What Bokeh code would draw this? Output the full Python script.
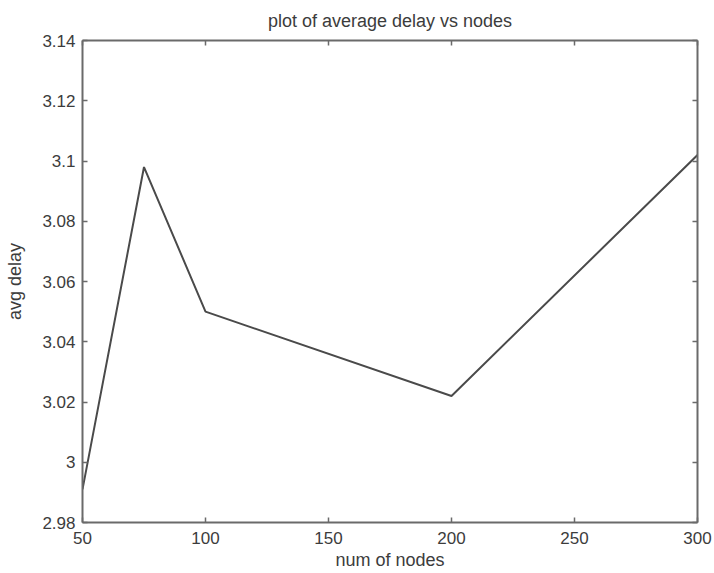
from bokeh.plotting import figure
from bokeh.models import LinearAxis, FixedTicker, Range1d
from bokeh.embed import file_html
from bokeh.resources import INLINE

# Data
num_nodes = [50, 75, 100, 200, 300]
avg_delay = [2.991, 3.098, 3.050, 3.022, 3.102]

x_ticks = [50, 100, 150, 200, 250, 300]
x_tick_labels = ["50", "100", "150", "200", "250", "300"]
y_ticks = [2.98, 3.00, 3.02, 3.04, 3.06, 3.08, 3.10, 3.12, 3.14]
y_tick_labels = ["2.98", "3", "3.02", "3.04", "3.06", "3.08", "3.1", "3.12", "3.14"]

FONT = "Liberation Sans"
AXIS_COL = "#6a6a6a"
TEXT_COL = "#3c3c3c"

p = figure(width=714, height=573, output_backend="svg", toolbar_location=None,
           x_range=Range1d(50, 300), y_range=Range1d(2.98, 3.14),
           min_border_left=82, min_border_right=17, min_border_top=40, min_border_bottom=51,
           title="plot of average delay vs nodes")

p.title.align = "center"
p.title.vertical_align = "middle"
p.title.text_font = FONT
p.title.text_font_size = "18px"
p.title.text_font_style = "normal"
p.title.text_color = TEXT_COL
p.title.offset = 0
p.title.standoff = 18

p.xgrid.visible = False
p.ygrid.visible = False
p.outline_line_color = None
p.background_fill_color = "white"
p.border_fill_color = "white"

def style(ax, labels=True):
    ax.axis_line_color = AXIS_COL
    ax.axis_line_width = 2
    ax.major_tick_line_color = AXIS_COL
    ax.major_tick_line_width = 1.5
    ax.major_tick_in = 5
    ax.major_tick_out = 0
    ax.minor_tick_line_color = None
    ax.major_label_text_font = FONT
    ax.major_label_text_font_size = "17px"
    ax.major_label_text_color = TEXT_COL
    ax.axis_label_text_font = FONT
    ax.axis_label_text_font_size = "18px"
    ax.axis_label_text_font_style = "normal"
    ax.axis_label_text_color = TEXT_COL
    if not labels:
        ax.major_label_text_font_size = "0px"
        ax.major_label_text_color = None

xax = p.xaxis[0]
xax.ticker = FixedTicker(ticks=x_ticks)
xax.major_label_overrides = {t: l for t, l in zip(x_ticks, x_tick_labels)}
xax.axis_label = "num of nodes"
xax.major_label_standoff = 9
xax.axis_label_standoff = 3
style(xax)

yax = p.yaxis[0]
yax.ticker = FixedTicker(ticks=y_ticks)
yax.major_label_overrides = {t: l for t, l in zip(y_ticks, y_tick_labels)}
yax.axis_label = "avg delay"
yax.major_label_standoff = 7
yax.axis_label_standoff = 14
style(yax)

top = LinearAxis(ticker=FixedTicker(ticks=x_ticks))
style(top, labels=False)
p.add_layout(top, "above")
right = LinearAxis(ticker=FixedTicker(ticks=y_ticks))
style(right, labels=False)
p.add_layout(right, "right")

p.line(num_nodes, avg_delay, line_color="#4a4a4a", line_width=2)

open("out.html", "w").write(file_html(p, INLINE))
